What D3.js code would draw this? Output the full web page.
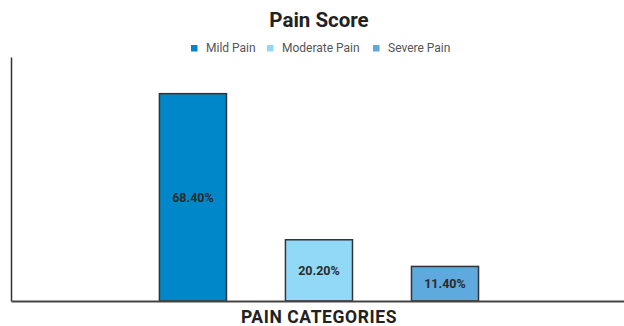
<!DOCTYPE html>
<html>
<head>
<meta charset="utf-8">
<script src="https://cdn.jsdelivr.net/npm/d3@7"></script>
<style>
  html, body { margin: 0; padding: 0; background: #fff; }
  svg { display: block; font-family: Roboto, "Noto Sans", sans-serif; }
</style>
</head>
<body>
<svg id="chart" width="624" height="326"></svg>
<script>
const series = ["Mild Pain", "Moderate Pain", "Severe Pain"];
const values = [68.4, 20.2, 11.4];
const colors = ["#0087c9", "#92d9f7", "#5ea9dd"];
const yDomain = [0, 80];
const chartTitle = "Pain Score";
const xTitle = "PAIN CATEGORIES";

const svg = d3.select("#chart");
const W = 624, H = 326;
const m = { left: 11, right: 0, top: 58.5, bottom: 25 };

const x = d3.scaleBand()
  .domain(series)
  .range([m.left, W - m.right])
  .paddingInner(0.468)
  .paddingOuter(1.166)
  .align(0.505);

const y = d3.scaleLinear().domain(yDomain).range([H - m.bottom, m.top]);

// bars
svg.append("g").selectAll("rect")
  .data(series)
  .join("rect")
  .attr("x", d => x(d))
  .attr("width", x.bandwidth())
  .attr("y", (d, i) => y(values[i]))
  .attr("height", (d, i) => y(0) - y(values[i]))
  .attr("fill", (d, i) => colors[i])
  .attr("stroke", "#333")
  .attr("stroke-width", 1.5);

// value labels
svg.append("g").selectAll("text")
  .data(series)
  .join("text")
  .attr("x", d => x(d) + x.bandwidth() / 2)
  .attr("y", (d, i) => (y(values[i]) + y(0)) / 2)
  .attr("dy", "0.35em")
  .attr("text-anchor", "middle")
  .attr("font-size", 12.5)
  .attr("font-weight", "bold")
  .attr("fill", "#2b2b2b")
  .text((d, i) => values[i].toFixed(2) + "%");

// axes
const yAxis = svg.append("g")
  .attr("transform", `translate(${m.left},0)`)
  .call(d3.axisLeft(y.copy().range([H - m.bottom, 57])).tickValues([]).tickSizeOuter(0));
yAxis.select(".domain").attr("stroke", "#333").attr("stroke-width", 1.5);

const xAxis = svg.append("g")
  .attr("transform", `translate(0,${y(0)})`)
  .call(d3.axisBottom(x).tickValues([]).tickSizeOuter(0));
xAxis.select(".domain").attr("stroke", "#444").attr("stroke-width", 2);

// title
svg.append("text")
  .attr("x", 319).attr("y", 27)
  .attr("text-anchor", "middle")
  .attr("font-size", 20.5)
  .attr("font-weight", "bold")
  .attr("fill", "#222")
  .text(chartTitle);

// x axis title
svg.append("text")
  .attr("x", 319).attr("y", 323)
  .attr("text-anchor", "middle")
  .attr("font-size", 17.5)
  .attr("font-weight", "bold")
  .attr("letter-spacing", 0.6)
  .attr("fill", "#222")
  .text(xTitle);

// legend
const legendX = [191, 267, 373];
const lg = svg.append("g").selectAll("g")
  .data(series)
  .join("g")
  .attr("transform", (d, i) => `translate(${legendX[i]},48)`);
lg.append("rect")
  .attr("x", 0).attr("y", -3)
  .attr("width", 6.5).attr("height", 6.5)
  .attr("fill", (d, i) => colors[i]);
lg.append("text")
  .attr("x", 15).attr("y", 0)
  .attr("dy", "0.35em")
  .attr("font-size", 12)
  .attr("fill", "#555")
  .text(d => d);
</script>
</body>
</html>
